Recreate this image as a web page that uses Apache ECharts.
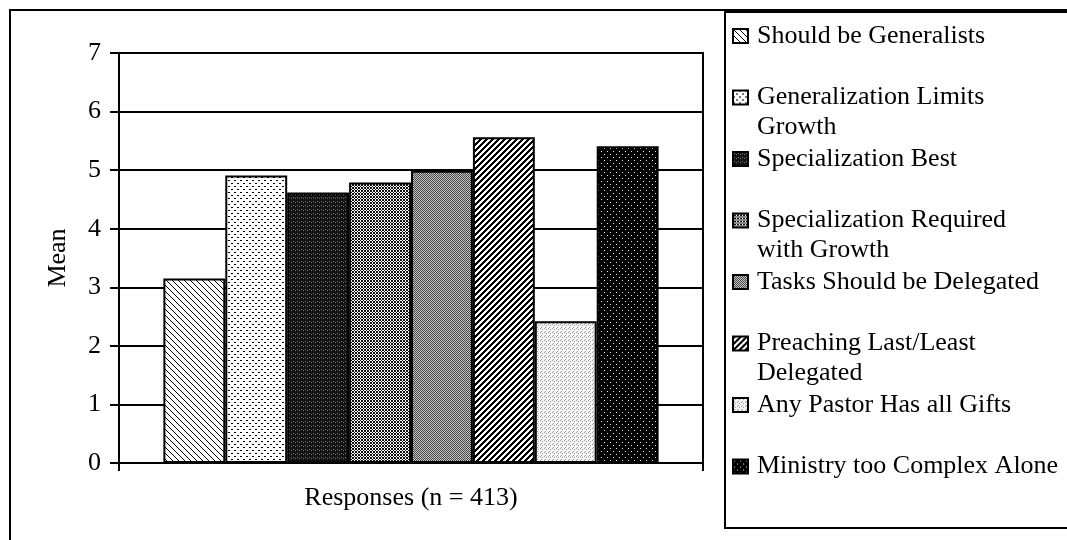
<!DOCTYPE html>
<html>
<head>
<meta charset="utf-8">
<script src="https://cdn.jsdelivr.net/npm/echarts@6/dist/echarts.min.js"></script>
<style>
  html, body { margin: 0; padding: 0; background: #fff; }
  #chart { width: 1067px; height: 540px; }
</style>
</head>
<body>
<div id="chart"></div>
<script>
// data
var category = ['Responses (n = 413)'];
var seriesNames = [
  'Should be Generalists',
  'Generalization Limits\nGrowth',
  'Specialization Best',
  'Specialization Required\nwith Growth',
  'Tasks Should be Delegated',
  'Preaching Last/Least\nDelegated',
  'Any Pastor Has all Gifts',
  'Ministry too Complex Alone'
];
var means = [3.15, 4.91, 4.62, 4.79, 4.99, 5.56, 2.42, 5.41];
var yTicks = [0, 7, 1]; // min, max, interval

var FONT = 'Liberation Serif';

// little canvas tiles used as fill patterns (the scan is black & white hatching)
function pattern(w, h, fn) {
  var c = document.createElement('canvas');
  c.width = w; c.height = h;
  var g = c.getContext('2d');
  for (var y = 0; y < h; y++) {
    for (var x = 0; x < w; x++) {
      g.fillStyle = fn(x, y);
      g.fillRect(x, y, 1, 1);
    }
  }
  return { image: c, repeat: 'repeat' };
}

var fills = [
  // thin "\" hatch
  pattern(6, 6, function (x, y) { return ((x - y + 60) % 6) === 0 ? '#000' : '#fff'; }),
  // sparse dots
  pattern(6, 6, function (x, y) {
    return ((y === 0 && (x === 0 || x === 1)) || (y === 3 && (x === 3 || x === 4))) ? '#000' : '#fff';
  }),
  // very dark fine grain
  pattern(4, 4, function (x, y) { return ((x === 1 && y === 1) || (x === 3 && y === 2)) ? '#777' : '#141414'; }),
  // fine crosshatch
  pattern(3, 3, function (x, y) { return ((x + y) % 3 === 0 || (x - y + 3) % 3 === 0) ? '#111' : '#fff'; }),
  // medium grey checker
  pattern(2, 2, function (x, y) { return (x + y) % 2 ? '#c4c4c4' : '#484848'; }),
  // bold "/" stripes
  pattern(6, 6, function (x, y) { return ((x + y) % 6) < 3 ? '#000' : '#fff'; }),
  // light speckle
  pattern(4, 4, function (x, y) {
    return ((x === 0 && y === 0) || (x === 2 && y === 1) || (x === 1 && y === 3)) ? '#9a9a9a' : '#f4f4f4';
  }),
  // black with white dots
  pattern(6, 6, function (x, y) { return ((x === 1 && y === 1) || (x === 4 && y === 4)) ? '#e8e8e8' : '#000'; })
];

var myChart = echarts.init(document.getElementById('chart'));

var series = seriesNames.map(function (name, i) {
  return {
    name: name,
    type: 'bar',
    data: [means[i]],
    barGap: '0%',
    barCategoryGap: '15.2%',
    itemStyle: {
      color: fills[i],
      borderColor: '#000',
      borderWidth: 2
    },
    z: 3
  };
});

var option = {
  backgroundColor: '#fff',
  animation: false,
  textStyle: { fontFamily: FONT, color: '#000' },
  graphic: [
    // outer frame of the figure (left + top edges)
    { type: 'polyline', shape: { points: [[10, 540], [10, 10], [1067, 10]] },
      style: { stroke: '#000', lineWidth: 2, fill: null }, z: 0 },
    // legend box
    { type: 'rect', shape: { x: 725, y: 12, width: 400, height: 516 },
      style: { stroke: '#000', lineWidth: 2, fill: '#fff' }, z: 0 }
  ],
  grid: {
    left: 119, right: 364, top: 53, bottom: 77,
    show: true, borderColor: '#000', borderWidth: 2, backgroundColor: 'transparent'
  },
  legend: {
    orient: 'vertical',
    left: 732,
    top: -9,
    itemWidth: 15,
    itemHeight: 14,
    itemGap: -28.5,
    icon: 'rect',
    selectedMode: false,
    padding: 0,
    itemStyle: { borderColor: '#000', borderWidth: 2 },
    // three text rows per entry (blank, first line, second line) so the
    // icon lines up with the first line of the label
    formatter: function (name) {
      return ' \n' + (name.indexOf('\n') >= 0 ? name : name + '\n ');
    },
    textStyle: {
      fontFamily: FONT,
      fontSize: 26,
      lineHeight: 30,
      color: '#000',
      padding: [0, 0, 0, 4]
    }
  },
  xAxis: {
    type: 'category',
    data: category,
    axisLine: { lineStyle: { color: '#000', width: 2 } },
    axisTick: { show: true, length: 8, lineStyle: { color: '#000', width: 2 } },
    axisLabel: { margin: 22, fontFamily: FONT, fontSize: 26, color: '#000' }
  },
  yAxis: {
    type: 'value',
    min: yTicks[0],
    max: yTicks[1],
    interval: yTicks[2],
    name: 'Mean',
    nameLocation: 'middle',
    nameGap: 48,
    nameTextStyle: { fontFamily: FONT, fontSize: 26, color: '#000' },
    axisLine: { show: true, lineStyle: { color: '#000', width: 2 } },
    axisTick: { show: true, length: 9, lineStyle: { color: '#000', width: 2 } },
    axisLabel: { margin: 18, fontFamily: FONT, fontSize: 26, color: '#000' },
    splitLine: { show: true, lineStyle: { color: '#000', width: 2 } }
  },
  series: series
};

myChart.setOption(option);
</script>
</body>
</html>
